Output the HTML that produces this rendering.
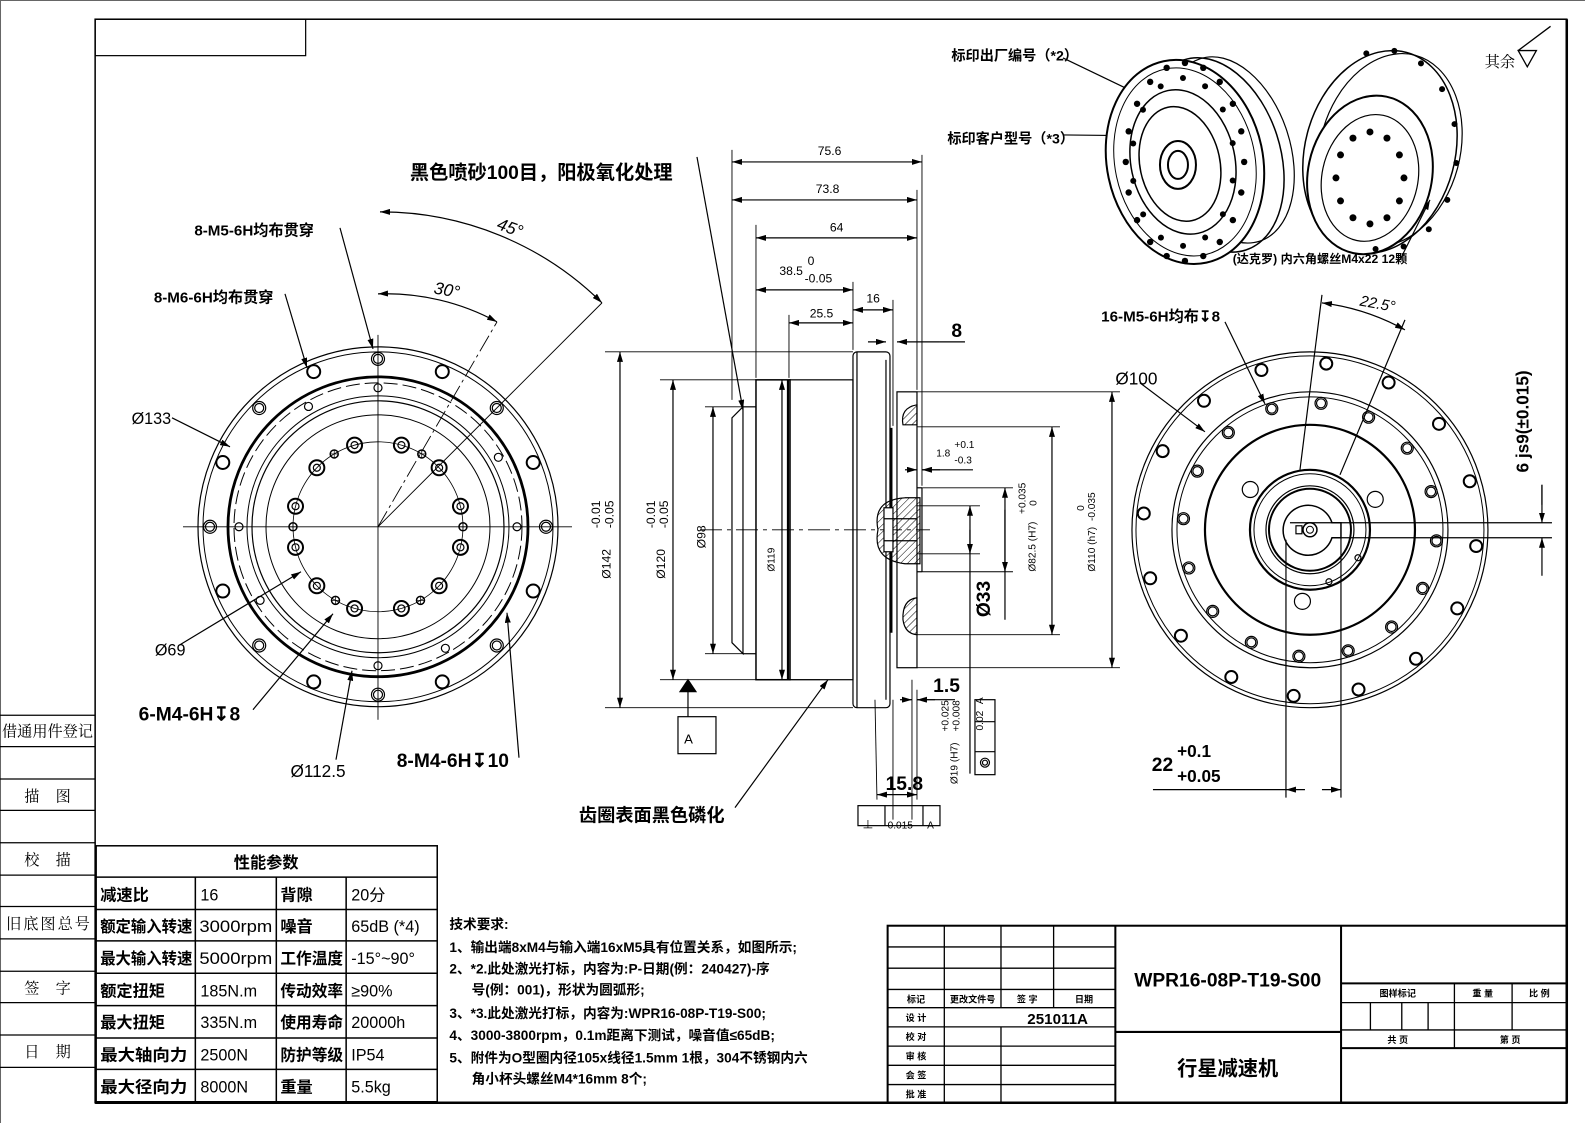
<!DOCTYPE html>
<html><head><meta charset="utf-8"><style>
html,body{margin:0;padding:0;background:#fff;}
svg{display:block;}
text{font-family:"Liberation Sans","Noto Sans CJK SC",sans-serif;fill:#000;}
.b{font-weight:bold;}
</style></head><body>
<svg id="s" width="1587" height="1123" viewBox="0 0 1568 1110" preserveAspectRatio="none" xmlns="http://www.w3.org/2000/svg">
<defs>
<marker id="ar" viewBox="0 0 10 6" refX="10" refY="3" markerWidth="10" markerHeight="6" orient="auto-start-reverse" markerUnits="userSpaceOnUse"><path d="M0,0L10,3L0,6z" fill="#000"/></marker>
<pattern id="h" width="5" height="5" patternUnits="userSpaceOnUse" patternTransform="rotate(45)"><line x1="0" y1="0" x2="0" y2="5" stroke="#000" stroke-width="1"/></pattern>
</defs>
<rect x="0" y="0" width="1568" height="1110" fill="#fff"/>
<path d="M0.5,1110 V0.5 H1566" fill="none" stroke="#666" stroke-width="1"/>
<rect x="94" y="19" width="1454" height="1071" fill="none" stroke="#000" stroke-width="1.5"/>
<line x1="1548" y1="19" x2="1548" y2="1090" stroke="#000" stroke-width="2.5"/>
<line x1="94" y1="1090" x2="1548" y2="1090" stroke="#000" stroke-width="2.5"/>
<rect x="94" y="19" width="208" height="36" fill="none" stroke="#000" stroke-width="1.2"/>
<g id="leftstrip" stroke="#000" stroke-width="1.2"></g>
<g font-size="15">
<text x="2" y="728" style="font-family:'Noto Serif CJK SC',serif" font-size="15">借通用件登记</text>
<text x="24" y="792" style="font-family:'Noto Serif CJK SC',serif" font-size="15" letter-spacing="16">描图</text>
<text x="24" y="855" style="font-family:'Noto Serif CJK SC',serif" font-size="15" letter-spacing="16">校描</text>
<text x="6" y="918" style="font-family:'Noto Serif CJK SC',serif" font-size="15" letter-spacing="2">旧底图总号</text>
<text x="24" y="982" style="font-family:'Noto Serif CJK SC',serif" font-size="15" letter-spacing="16">签字</text>
<text x="24" y="1045" style="font-family:'Noto Serif CJK SC',serif" font-size="15" letter-spacing="16">日期</text>
</g>

<g stroke="#000" stroke-width="1.5" fill="none">
<rect x="95" y="836" width="337" height="253"/>
<line x1="95" y1="867" x2="432" y2="867"/>
<line x1="95" y1="899" x2="432" y2="899"/><line x1="95" y1="930" x2="432" y2="930"/>
<line x1="95" y1="962" x2="432" y2="962"/><line x1="95" y1="994" x2="432" y2="994"/>
<line x1="95" y1="1026" x2="432" y2="1026"/><line x1="95" y1="1057" x2="432" y2="1057"/>
<line x1="193" y1="867" x2="193" y2="1089"/><line x1="273" y1="867" x2="273" y2="1089"/><line x1="342" y1="867" x2="342" y2="1089"/>
</g>
<g font-size="16">
<text x="263" y="858" text-anchor="middle" class="b" font-size="16">性能参数</text>
<text x="99" y="890" class="b">减速比</text><text x="198" y="890">16</text><text x="277" y="890" class="b">背隙</text><text x="347" y="890">20分</text>
<text x="99" y="921" class="b" textLength="91" lengthAdjust="spacingAndGlyphs">额定输入转速</text><text x="197" y="921" textLength="72" lengthAdjust="spacingAndGlyphs">3000rpm</text><text x="277" y="921" class="b">噪音</text><text x="347" y="921">65dB (*4)</text>
<text x="99" y="953" class="b" textLength="91" lengthAdjust="spacingAndGlyphs">最大输入转速</text><text x="197" y="953" textLength="72" lengthAdjust="spacingAndGlyphs">5000rpm</text><text x="277" y="953" class="b" textLength="62" lengthAdjust="spacingAndGlyphs">工作温度</text><text x="347" y="953">-15°~90°</text>
<text x="99" y="985" class="b">额定扭矩</text><text x="198" y="985">185N.m</text><text x="277" y="985" class="b" textLength="62" lengthAdjust="spacingAndGlyphs">传动效率</text><text x="347" y="985">≥90%</text>
<text x="99" y="1016" class="b">最大扭矩</text><text x="198" y="1016">335N.m</text><text x="277" y="1016" class="b" textLength="62" lengthAdjust="spacingAndGlyphs">使用寿命</text><text x="347" y="1016">20000h</text>
<text x="99" y="1048" class="b" textLength="86" lengthAdjust="spacingAndGlyphs">最大轴向力</text><text x="198" y="1048">2500N</text><text x="277" y="1048" class="b" textLength="62" lengthAdjust="spacingAndGlyphs">防护等级</text><text x="347" y="1048">IP54</text>
<text x="99" y="1080" class="b" textLength="86" lengthAdjust="spacingAndGlyphs">最大径向力</text><text x="198" y="1080">8000N</text><text x="277" y="1080" class="b">重量</text><text x="347" y="1080">5.5kg</text>
</g>

<g font-size="13.5" class="b">
<text x="444" y="918">技术要求:</text>
<text x="444" y="941">1、输出端8xM4与输入端16xM5具有位置关系，如图所示;</text>
<text x="444" y="962">2、*2.此处激光打标，内容为:P-日期(例：240427)-序</text>
<text x="466" y="983">号(例：001)，形状为圆弧形;</text>
<text x="444" y="1006">3、*3.此处激光打标，内容为:WPR16-08P-T19-S00;</text>
<text x="444" y="1028">4、3000-3800rpm，0.1m距离下测试，噪音值≤65dB;</text>
<text x="444" y="1050">5、附件为O型圈内径105x线径1.5mm 1根，304不锈钢内六</text>
<text x="466" y="1071">角小杯头螺丝M4*16mm 8个;</text>
</g>

<g stroke="#000" stroke-width="1.3" fill="none">
<rect x="877" y="915" width="671" height="175" stroke-width="2"/>
<line x1="877" y1="936" x2="1102" y2="936"/><line x1="877" y1="957" x2="1102" y2="957"/>
<line x1="877" y1="978" x2="1102" y2="978"/><line x1="877" y1="996" x2="1102" y2="996"/>
<line x1="877" y1="1015" x2="1102" y2="1015"/><line x1="877" y1="1034" x2="1102" y2="1034"/>
<line x1="877" y1="1053" x2="1102" y2="1053"/><line x1="877" y1="1072" x2="1102" y2="1072"/>
<line x1="933" y1="915" x2="933" y2="1090"/><line x1="989" y1="915" x2="989" y2="996"/><line x1="989" y1="1015" x2="989" y2="1090"/>
<line x1="1041" y1="915" x2="1041" y2="996"/>
<line x1="1102" y1="915" x2="1102" y2="1090" stroke-width="2"/>
<line x1="1102" y1="1020" x2="1325" y2="1020" stroke-width="2"/>
<line x1="1325" y1="915" x2="1325" y2="1090" stroke-width="2"/>
<line x1="1325" y1="972" x2="1548" y2="972" stroke-width="2"/>
<line x1="1325" y1="991" x2="1548" y2="991"/>
<line x1="1325" y1="1018" x2="1548" y2="1018"/>
<line x1="1325" y1="1036" x2="1548" y2="1036" stroke-width="2"/>
<line x1="1354" y1="991" x2="1354" y2="1018"/><line x1="1385" y1="991" x2="1385" y2="1018"/><line x1="1411" y1="991" x2="1411" y2="1018"/>
<line x1="1437" y1="972" x2="1437" y2="1036"/><line x1="1494" y1="972" x2="1494" y2="1018"/>
</g>
<g font-size="9" class="b" text-anchor="middle">
<text x="905" y="991">标记</text><text x="961" y="991">更改文件号</text><text x="1015" y="991">签 字</text><text x="1071" y="991">日期</text>
<text x="905" y="1009">设 计</text><text x="905" y="1028">校 对</text><text x="905" y="1047">审 核</text><text x="905" y="1066">会 签</text><text x="905" y="1085">批 准</text>
<text x="1381" y="985">图样标记</text><text x="1465" y="985">重 量</text><text x="1521" y="985">比 例</text>
<text x="1381" y="1031">共    页</text><text x="1492" y="1031">第    页</text>
</g>
<text x="1045" y="1012" font-size="15" class="b" text-anchor="middle">251011A</text>
<text x="1213" y="975" font-size="19" class="b" text-anchor="middle">WPR16-08P-T19-S00</text>
<text x="1213" y="1063" font-size="20" class="b" text-anchor="middle">行星减速机</text>

<!-- 其余 symbol -->
<path d="M1500,50 L1518,50 L1509,66 Z L1532,26" fill="none" stroke="#000" stroke-width="1.3"/>

<g transform="scale(0.988)" stroke="#000" fill="none" stroke-width="1.2" id="geo">
<g id="lv"></g>
<line x1="183" y1="527" x2="572" y2="527" stroke-width="0.9"/>
<line x1="378" y1="335" x2="378" y2="720" stroke-width="0.9"/>
<line x1="378" y1="527" x2="497" y2="322" stroke-dasharray="18,4,3,4" stroke-width="0.9"/>
<line x1="378" y1="527" x2="602" y2="303" stroke-width="0.9"/>
<path d="M378,294 A233,233 0 0 1 497,322" marker-start="url(#ar)" marker-end="url(#ar)"/>
<path d="M380,212 A315,315 0 0 1 602,303" marker-start="url(#ar)" marker-end="url(#ar)"/>
<line x1="340" y1="228" x2="373" y2="349" marker-end="url(#ar)"/>
<line x1="285" y1="294" x2="307" y2="368" marker-end="url(#ar)"/>
<line x1="172" y1="418" x2="230" y2="447" marker-end="url(#ar)"/>
<line x1="180" y1="645" x2="301" y2="572" marker-end="url(#ar)"/>
<line x1="253" y1="710" x2="333" y2="614" marker-end="url(#ar)"/>
<line x1="336" y1="760" x2="352" y2="671" marker-end="url(#ar)"/>
<line x1="519" y1="758" x2="507" y2="613" marker-end="url(#ar)"/>

<line x1="700" y1="530" x2="930" y2="530" stroke-dasharray="22,5,4,5" stroke-width="0.9"/>
<path d="M743,407 L732,418 L732,643 L743,654 Z"/>
<line x1="743" y1="407" x2="756" y2="407"/><line x1="743" y1="654" x2="756" y2="654"/>
<rect x="756" y="380" width="34" height="300" stroke-width="1.5"/>
<line x1="788" y1="380" x2="788" y2="680" stroke-width="2.2"/>
<rect x="790" y="380" width="63" height="300"/>
<rect x="853" y="352" width="37" height="356" rx="4"/>
<line x1="857" y1="352" x2="857" y2="708"/>
<line x1="886" y1="360" x2="886" y2="700"/>
<line x1="891" y1="428" x2="891" y2="633" stroke-width="3"/>
<rect x="897" y="392" width="20" height="276"/>
<line x1="917" y1="488" x2="922" y2="488"/><line x1="917" y1="572" x2="922" y2="572"/><line x1="922" y1="488" x2="922" y2="572"/>
<path d="M905,498 Q872,500 878,530 Q872,560 905,564 L920,564 L920,498 Z" fill="url(#h)"/>
<rect x="884" y="508" width="9" height="44" fill="#fff"/>
<line x1="884" y1="519" x2="917" y2="519"/><line x1="884" y1="541" x2="917" y2="541"/>
<path d="M917,405 Q900,408 903,425 L917,425 Z" fill="url(#h)"/>
<path d="M917,598 Q902,600 903,620 Q905,634 917,635 Z" fill="url(#h)"/>
<line x1="732" y1="150" x2="732" y2="400" stroke-width="0.9"/>
<line x1="756" y1="225" x2="756" y2="378" stroke-width="0.9"/>
<line x1="789" y1="315" x2="789" y2="378" stroke-width="0.9"/>
<line x1="853" y1="282" x2="853" y2="350" stroke-width="0.9"/>
<line x1="893" y1="300" x2="893" y2="426" stroke-width="0.9"/>
<line x1="917" y1="190" x2="917" y2="390" stroke-width="0.9"/>
<line x1="922" y1="155" x2="922" y2="486" stroke-width="0.9"/>
<line x1="732" y1="162" x2="922" y2="162" marker-start="url(#ar)" marker-end="url(#ar)"/>
<line x1="732" y1="200" x2="917" y2="200" marker-start="url(#ar)" marker-end="url(#ar)"/>
<line x1="756" y1="238" x2="917" y2="238" marker-start="url(#ar)" marker-end="url(#ar)"/>
<line x1="756" y1="290" x2="853" y2="290" marker-start="url(#ar)" marker-end="url(#ar)"/>
<line x1="789" y1="323" x2="853" y2="323" marker-start="url(#ar)" marker-end="url(#ar)"/>
<line x1="853" y1="310" x2="893" y2="310" marker-start="url(#ar)" marker-end="url(#ar)"/>
<line x1="868" y1="342" x2="886" y2="342" marker-end="url(#ar)"/><line x1="940" y1="342" x2="897" y2="342" marker-end="url(#ar)"/>
<line x1="940" y1="342" x2="965" y2="342"/>
<line x1="605" y1="352" x2="853" y2="352" stroke-width="0.9"/>
<line x1="605" y1="708" x2="853" y2="708" stroke-width="0.9"/>
<line x1="620" y1="352" x2="620" y2="708" marker-start="url(#ar)" marker-end="url(#ar)"/>
<line x1="660" y1="380" x2="756" y2="380" stroke-width="0.9"/>
<line x1="660" y1="680" x2="820" y2="680" stroke-width="0.9"/>
<line x1="673" y1="380" x2="673" y2="680" marker-start="url(#ar)" marker-end="url(#ar)"/>
<line x1="705" y1="407" x2="743" y2="407" stroke-width="0.9"/>
<line x1="705" y1="654" x2="743" y2="654" stroke-width="0.9"/>
<line x1="713" y1="407" x2="713" y2="654" marker-start="url(#ar)" marker-end="url(#ar)"/>
<line x1="782" y1="380" x2="782" y2="680" marker-start="url(#ar)" marker-end="url(#ar)"/>
<path d="M688,680 L680,692 L696,692 Z" fill="#000"/>
<line x1="688" y1="692" x2="688" y2="717"/>
<rect x="678" y="717" width="38" height="37"/>
<line x1="697" y1="157" x2="743" y2="410" marker-end="url(#ar)"/>
<line x1="735" y1="808" x2="828" y2="680" marker-end="url(#ar)"/>
<line x1="917" y1="392" x2="1120" y2="392" stroke-width="0.9"/>
<line x1="917" y1="668" x2="1120" y2="668" stroke-width="0.9"/>
<line x1="1112" y1="392" x2="1112" y2="668" marker-start="url(#ar)" marker-end="url(#ar)"/>
<line x1="917" y1="427" x2="1060" y2="427" stroke-width="0.9"/>
<line x1="917" y1="635" x2="1060" y2="635" stroke-width="0.9"/>
<line x1="1052" y1="427" x2="1052" y2="635" marker-start="url(#ar)" marker-end="url(#ar)"/>
<line x1="922" y1="488" x2="1013" y2="488" stroke-width="0.9"/>
<line x1="922" y1="572" x2="1013" y2="572" stroke-width="0.9"/>
<line x1="1005" y1="488" x2="1005" y2="620" marker-start="url(#ar)"/>
<line x1="1005" y1="510" x2="1005" y2="572" marker-end="url(#ar)"/>
<line x1="917" y1="506" x2="980" y2="506" stroke-width="0.9"/>
<line x1="917" y1="554" x2="980" y2="554" stroke-width="0.9"/>
<line x1="970" y1="506" x2="970" y2="774" marker-start="url(#ar)"/>
<line x1="970" y1="530" x2="970" y2="554" marker-end="url(#ar)"/>
<line x1="905" y1="470" x2="917" y2="470" marker-end="url(#ar)"/>
<line x1="940" y1="470" x2="922" y2="470" marker-end="url(#ar)"/>
<line x1="922" y1="470" x2="973" y2="470"/>
<line x1="893" y1="700" x2="893" y2="820" stroke-width="0.9"/>
<line x1="912" y1="680" x2="912" y2="820" stroke-width="0.9"/>
<line x1="875" y1="700" x2="877" y2="800" stroke-width="0.9"/>
<line x1="900" y1="700" x2="912" y2="700" marker-end="url(#ar)"/>
<line x1="935" y1="700" x2="917" y2="700" marker-end="url(#ar)"/>
<line x1="917" y1="700" x2="955" y2="700"/>
<line x1="877" y1="795" x2="917" y2="795" marker-start="url(#ar)" marker-end="url(#ar)"/>
<line x1="917" y1="690" x2="917" y2="800" stroke-width="0.9"/>
<rect x="858" y="806" width="82" height="20"/>
<line x1="885" y1="806" x2="885" y2="826"/><line x1="923" y1="806" x2="923" y2="826"/>
<rect x="975" y="700" width="20" height="75"/>
<line x1="975" y1="722" x2="995" y2="722"/><line x1="975" y1="752" x2="995" y2="752"/>
<circle cx="985" cy="763" r="4.5"/><circle cx="985" cy="763" r="2.5"/>

<g id="rv"></g>
<line x1="1290" y1="523" x2="1552" y2="523"/>
<line x1="1341" y1="538" x2="1552" y2="538"/>
<line x1="1542" y1="485" x2="1542" y2="523" marker-end="url(#ar)"/>
<line x1="1542" y1="576" x2="1542" y2="538" marker-end="url(#ar)"/>
<line x1="1542" y1="505" x2="1542" y2="485"/>
<line x1="1286" y1="540" x2="1286" y2="798"/>
<line x1="1341" y1="538" x2="1341" y2="798"/>
<line x1="1153" y1="790" x2="1286" y2="790"/>
<line x1="1305" y1="790" x2="1286" y2="790" marker-end="url(#ar)"/>
<line x1="1322" y1="790" x2="1341" y2="790" marker-end="url(#ar)"/>
<path d="M1322,303 A230,230 0 0 1 1405,330" marker-start="url(#ar)" marker-end="url(#ar)"/>
<line x1="1322" y1="295" x2="1300" y2="470"/>
<line x1="1405" y1="320" x2="1340" y2="475"/>
<line x1="1225" y1="322" x2="1265" y2="404" marker-end="url(#ar)"/>
<line x1="1140" y1="383" x2="1205" y2="432" marker-end="url(#ar)"/>
<line x1="1063" y1="58" x2="1140" y2="95" marker-end="url(#ar)"/>
<line x1="1063" y1="135" x2="1158" y2="136" marker-end="url(#ar)"/>
<line x1="1400" y1="260" x2="1430" y2="200" marker-end="url(#ar)"/>
</g>

<g transform="scale(0.988)" stroke="#000" fill="none">
<ellipse cx="1215" cy="155" rx="65" ry="100" stroke-width="1.5" transform="rotate(-18 1215 155)"/>
<ellipse cx="1230" cy="150" rx="60" ry="96" stroke-width="1.2" transform="rotate(-18 1230 150)"/>
<ellipse cx="1185" cy="162" rx="78" ry="103" stroke-width="2" fill="#fff" transform="rotate(-12 1185 162)"/>
<ellipse cx="1185" cy="162" rx="70" ry="95" stroke-width="1" transform="rotate(-12 1185 162)"/>
<ellipse cx="1183" cy="162" rx="52" ry="73" stroke-width="1.5" transform="rotate(-12 1183 162)"/>
<ellipse cx="1180" cy="164" rx="40" ry="58" stroke-width="1.5" transform="rotate(-12 1180 164)"/>
<ellipse cx="1178" cy="165" rx="18" ry="24" stroke-width="2"/>
<ellipse cx="1178" cy="165" rx="10" ry="14" stroke-width="2"/>
<ellipse cx="1380" cy="152" rx="75" ry="103" stroke-width="1.5" transform="rotate(15 1380 152)"/>
<ellipse cx="1390" cy="150" rx="70" ry="98" stroke-width="1.2" transform="rotate(15 1390 150)"/>
<ellipse cx="1370" cy="175" rx="62" ry="80" stroke-width="2" fill="#fff" transform="rotate(12 1370 175)"/>
<ellipse cx="1370" cy="178" rx="48" ry="64" stroke-width="1.2" transform="rotate(12 1370 178)"/>
<g id="ph" fill="#000" stroke="none"></g>
</g>

<g class="b">
<text x="405" y="177" font-size="19">黑色喷砂100目，阳极氧化处理</text>
<text x="192" y="233" font-size="15">8-M5-6H均布贯穿</text>
<text x="152" y="299" font-size="15">8-M6-6H均布贯穿</text>
<text x="130" y="419" font-size="16" font-weight="normal">Ø133</text>
<text x="153" y="648" font-size="16" font-weight="normal">Ø69</text>
<text x="137" y="712" font-size="19">6-M4-6H↧8</text>
<text x="287" y="768" font-size="17" font-weight="normal">Ø112.5</text>
<text x="392" y="758" font-size="19">8-M4-6H↧10</text>
<text x="572" y="812" font-size="18">齿圈表面黑色磷化</text>
<text x="940" y="60" font-size="14">标印出厂编号（*2）</text>
<text x="936" y="142" font-size="14">标印客户型号（*3）</text>
<text x="1218" y="260" font-size="12">(达克罗) 内六角螺丝M4x22  12颗</text>
<text x="1088" y="318" font-size="15">16-M5-6H均布↧8</text>
</g>
<text x="1467" y="66" font-size="15" style="font-family:'Noto Serif CJK SC',serif">其余</text>
<g font-style="italic" font-size="17">
<text x="490" y="226" transform="rotate(20 490 226)">45°</text>
<text x="428" y="290" transform="rotate(10 428 290)">30°</text>
<text x="1343" y="302" transform="rotate(10 1343 302)" font-size="15">22.5°</text>
</g>
<g font-size="12">
<text x="808" y="153">75.6</text><text x="806" y="191">73.8</text><text x="820" y="229">64</text>
<text x="770" y="272">38.5</text><text x="798" y="262">0</text><text x="795" y="279">-0.05</text>
<text x="800" y="314">25.5</text><text x="856" y="299">16</text>
<text x="925" y="451" font-size="10">1.8</text><text x="943" y="443" font-size="10">+0.1</text><text x="943" y="458" font-size="10">-0.3</text>
<text x="676" y="735" font-size="13">A</text>
<text x="852" y="819" font-size="11">⊥</text><text x="877" y="819" font-size="10">0.015</text><text x="916" y="819" font-size="10">A</text>
</g>
<text x="940" y="333" font-size="19" class="b">8</text>
<text x="922" y="684" font-size="19" class="b">1.5</text>
<text x="875" y="781" font-size="19" class="b">15.8</text>
<text x="1138" y="762" font-size="19" class="b">22</text>
<text x="1163" y="748" font-size="17" class="b">+0.1</text>
<text x="1163" y="773" font-size="17" class="b">+0.05</text>
<text x="1102" y="380" font-size="17">Ø100</text>
<g font-size="12">
<text transform="translate(603,572) rotate(-90)">Ø142</text>
<text transform="translate(593,522) rotate(-90)">-0.01</text>
<text transform="translate(606,522) rotate(-90)">-0.05</text>
<text transform="translate(657,572) rotate(-90)">Ø120</text>
<text transform="translate(647,522) rotate(-90)">-0.01</text>
<text transform="translate(660,522) rotate(-90)">-0.05</text>
<text transform="translate(697,542) rotate(-90)">Ø98</text>
<text transform="translate(765,565) rotate(-90)" font-size="10">Ø119</text>
<text transform="translate(1023,565) rotate(-90)" font-size="10">Ø82.5 (H7)</text>
<text transform="translate(1013,508) rotate(-90)" font-size="10">+0.035</text>
<text transform="translate(1024,500) rotate(-90)" font-size="10">0</text>
<text transform="translate(1082,565) rotate(-90)" font-size="10">Ø110 (h7)</text>
<text transform="translate(1071,505) rotate(-90)" font-size="10">0</text>
<text transform="translate(1082,515) rotate(-90)" font-size="10">-0.035</text>
<text transform="translate(946,775) rotate(-90)" font-size="10">Ø19 (H7)</text>
<text transform="translate(937,723) rotate(-90)" font-size="10">+0.025</text>
<text transform="translate(948,723) rotate(-90)" font-size="10">+0.008</text>
<text transform="translate(971,722) rotate(-90)" font-size="10">0.02</text>
<text transform="translate(971,696) rotate(-90)" font-size="10">A</text>
</g>
<text transform="translate(978,610) rotate(-90)" font-size="19" class="b">Ø33</text>
<text transform="translate(1510,467) rotate(-90)" font-size="17" class="b">6 js9(±0.015)</text>

<script>
(function(){
var NS="http://www.w3.org/2000/svg";
function add(g,tag,attrs){var e=document.createElementNS(NS,tag);for(var k in attrs)e.setAttribute(k,attrs[k]);g.appendChild(e);return e;}
function P(cx,cy,r,a){a=a*Math.PI/180;return [cx+r*Math.sin(a),cy-r*Math.cos(a)];}
var ls=document.getElementById('leftstrip');
[707,738,770,801,833,865,896,928,960,991,1023,1055].forEach(function(y){add(ls,'line',{x1:0,y1:y,x2:94,y2:y});});
var lv=document.getElementById('lv'),cx=378,cy=527;
[[180,1.2],[175,1],[150,2.8],[131,1],[126,1.2],[112,1]].forEach(function(c){add(lv,'circle',{cx:cx,cy:cy,r:c[0],'stroke-width':c[1]});});
add(lv,'circle',{cx:cx,cy:cy,r:144,'stroke-dasharray':'14,5','stroke-width':1});
add(lv,'circle',{cx:cx,cy:cy,r:85,'stroke-width':0.8});
for(var i=0;i<16;i++){var a=i*22.5,p=P(cx,cy,168,a);
 if(i%2==0){add(lv,'circle',{cx:p[0],cy:p[1],r:6.5});add(lv,'circle',{cx:p[0],cy:p[1],r:4.5});}
 else add(lv,'circle',{cx:p[0],cy:p[1],r:6.5,'stroke-width':2});}
[0,60,90,151,180,238,270,330].forEach(function(a){var p=P(cx,cy,139,a);add(lv,'circle',{cx:p[0],cy:p[1],r:4});});
[16,46,76,104,134,164,196,226,256,284,314,344].forEach(function(a){var p=P(cx,cy,85,a);
 add(lv,'circle',{cx:p[0],cy:p[1],r:7.5,'stroke-width':2});add(lv,'circle',{cx:p[0],cy:p[1],r:3.5});});
[31,90,150,210,270,329].forEach(function(a){var p=P(cx,cy,85,a);add(lv,'circle',{cx:p[0],cy:p[1],r:4,'stroke-width':1.5});
 add(lv,'line',{x1:p[0]-4,y1:p[1],x2:p[0]+4,y2:p[1],'stroke-width':0.7});add(lv,'line',{x1:p[0],y1:p[1]-4,x2:p[0],y2:p[1]+4,'stroke-width':0.7});});
var rv=document.getElementById('rv');cx=1310;cy=530;
[[178,1.2],[174,1],[138,1.2],[133,1],[105,2.2],[60,2.2],[56,1],[44,1.2],[41,2],[7,1.5],[3.5,1]].forEach(function(c){add(rv,'circle',{cx:cx,cy:cy,r:c[0],'stroke-width':c[1]});});
for(var i=0;i<16;i++){var p=P(cx,cy,167,5.6+22.5*i);add(rv,'circle',{cx:p[0],cy:p[1],r:6,'stroke-width':2});
 var q=P(cx,cy,127,5+22.5*i);add(rv,'circle',{cx:q[0],cy:q[1],r:6});add(rv,'circle',{cx:q[0],cy:q[1],r:4.5});}
[-56,65,186].forEach(function(a){var p=P(cx,cy,72,a);add(rv,'circle',{cx:p[0],cy:p[1],r:8});});
[[1358,558],[1329,582]].forEach(function(c){add(rv,'circle',{cx:c[0],cy:c[1],r:3});});
add(rv,'path',{d:'M1332,523 A25,25 0 1 0 1332,538 L1341,538 L1341,523 Z','stroke-width':1.5});
add(rv,'rect',{x:1296,y:526,width:6,height:8});
var ph=document.getElementById('ph');
for(var i=0;i<20;i++){var a=i*18*Math.PI/180;add(ph,'circle',{cx:1185+74*Math.sin(a)*0.8,cy:162-99*Math.cos(a),r:3.2});}
for(var i=0;i<14;i++){var a=i*25.7*Math.PI/180;add(ph,'circle',{cx:1183+60*Math.sin(a)*0.85,cy:162-84*Math.cos(a),r:3});}
for(var i=0;i<12;i++){var a=i*30*Math.PI/180;add(ph,'circle',{cx:1370+34*Math.sin(a),cy:178-46*Math.cos(a),r:3.5});}
for(var i=0;i<16;i++){var a=(i*22.5-60)*Math.PI/180;if(Math.sin(a)>-0.3)add(ph,'circle',{cx:1385+72*Math.sin(a),cy:150-100*Math.cos(a),r:3});}
})();
</script>
</svg>
</body></html>
